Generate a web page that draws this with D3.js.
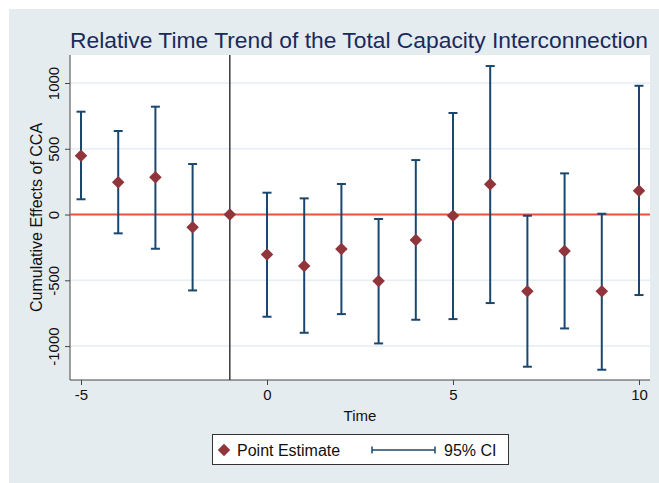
<!DOCTYPE html>
<html><head><meta charset="utf-8">
<script src="https://cdn.jsdelivr.net/npm/d3@7"></script>
<style>body{margin:0;background:#fff}svg{display:block}text{font-family:"Liberation Sans",Arial,sans-serif}</style>
</head><body><svg id="c" width="659" height="483"></svg>
<script>
const periods = [-5,-4,-3,-2,-1,0,1,2,3,4,5,6,7,8,9,10];
const estimates = [447,245,283,-97,0,-303,-392,-262,-506,-194,-9,230,-584,-278,-584,181];
const ciUpper = [782,635,820,384,null,166,123,232,-34,414,772,1129,-9,313,6,979];
const ciLower = [116,-143,-260,-577,null,-777,-899,-757,-980,-800,-795,-673,-1157,-866,-1180,-612];
const xTicks = [-5,0,5,10];
const yTicks = [-1000,-500,0,500,1000];
const title = "Relative Time Trend of the Total Capacity Interconnection";
const xLabel = "Time", yLabel = "Cumulative Effects of CCA";
const legendLabels = ["Point Estimate","95% CI"];
const refTime = -1;

const fmt = d => String(d);
const svg = d3.select("#c");
svg.append("rect").attr("x",9).attr("y",9).attr("width",650).attr("height",474).attr("fill","#e5ecf0");
const L=70,R=650,T=55,B=380;
svg.append("rect").attr("x",L).attr("y",T).attr("width",R-L).attr("height",B-T).attr("fill","#fff");

const x = d3.scaleLinear().domain([-5.296,10.296]).range([L,R]);
const y = d3.scaleLinear().domain([-1258,1213]).range([B,T]);

// gridlines
svg.append("g").selectAll("line").data(yTicks).join("line")
  .attr("x1",L).attr("x2",R).attr("y1",d=>y(d)).attr("y2",d=>y(d))
  .attr("stroke","#e6edf3").attr("stroke-width",1.5);

// axes
const yAx = svg.append("g").attr("transform",`translate(${L},0)`)
  .call(d3.axisLeft(y).tickValues(yTicks).tickFormat(fmt).tickSize(5).tickSizeOuter(0));
yAx.select(".domain").attr("stroke","#444").attr("d",`M0,${T}V${B}`);
yAx.selectAll(".tick line").attr("stroke","#444");
yAx.selectAll(".tick text").attr("font-size",15).attr("fill","#111")
  .attr("text-anchor","middle").attr("x",0).attr("y",0).attr("dy","0")
  .attr("transform","translate(-11,0) rotate(-90)");

const xAx = svg.append("g").attr("transform",`translate(0,${B})`)
  .call(d3.axisBottom(x).tickValues(xTicks).tickFormat(fmt).tickSize(5).tickPadding(4).tickSizeOuter(0));
xAx.select(".domain").attr("stroke","#444").attr("d",`M${L},0H${R}`);
xAx.selectAll(".tick line").attr("stroke","#444");
xAx.selectAll(".tick text").attr("font-size",15).attr("fill","#111");

// zero line
svg.append("line").attr("x1",L).attr("x2",R).attr("y1",y(0)).attr("y2",y(0))
  .attr("stroke","#e8503f").attr("stroke-width",2);
// reference vertical line
svg.append("line").attr("x1",x(refTime)).attr("x2",x(refTime)).attr("y1",T).attr("y2",B)
  .attr("stroke","#3a3a3a").attr("stroke-width",1.5);

// error bars
const data = periods.map((p,i)=>({p,e:estimates[i],u:ciUpper[i],l:ciLower[i]}));
const ci = data.filter(d=>d.u!==null);
const eb = svg.append("g").attr("stroke","#1a476f").attr("stroke-width",2);
eb.selectAll(".v").data(ci).join("line").attr("x1",d=>x(d.p)).attr("x2",d=>x(d.p))
  .attr("y1",d=>y(d.u)).attr("y2",d=>y(d.l));
eb.selectAll(".cu").data(ci).join("line").attr("x1",d=>x(d.p)-4.5).attr("x2",d=>x(d.p)+4.5)
  .attr("y1",d=>y(d.u)).attr("y2",d=>y(d.u));
eb.selectAll(".cl").data(ci).join("line").attr("x1",d=>x(d.p)-4.5).attr("x2",d=>x(d.p)+4.5)
  .attr("y1",d=>y(d.l)).attr("y2",d=>y(d.l));

// points
const dsym = d3.symbol().type(d3.symbolDiamond2).size(100);
svg.append("g").selectAll("path").data(data).join("path")
  .attr("d",dsym).attr("transform",d=>`translate(${x(d.p)},${y(d.e)})`)
  .attr("fill","#90353b");

// title
svg.append("text").attr("x",70).attr("y",48).attr("font-size",21.5).attr("fill","#1a2a5c")
  .attr("textLength",578).attr("lengthAdjust","spacingAndGlyphs").text(title);

// axis labels
svg.append("text").attr("x",(L+R)/2).attr("y",421).attr("text-anchor","middle")
  .attr("font-size",15).attr("fill","#111").text(xLabel);
svg.append("text").attr("transform",`translate(42,${(T+B)/2}) rotate(-90)`).attr("text-anchor","middle")
  .attr("font-size",16).attr("fill","#111").text(yLabel);

// legend
const lg = svg.append("g");
lg.append("rect").attr("x",212.5).attr("y",434.5).attr("width",296).attr("height",30)
  .attr("fill","#fff").attr("stroke","#333").attr("stroke-width",1);
lg.append("path").attr("d",dsym).attr("transform","translate(224,450)").attr("fill","#90353b");
lg.append("text").attr("x",237).attr("y",455.5).attr("font-size",16).attr("fill","#111").text(legendLabels[0]);
lg.append("line").attr("x1",372).attr("x2",435).attr("y1",450).attr("y2",450).attr("stroke","#1a476f").attr("stroke-width",1.5);
lg.append("line").attr("x1",372).attr("x2",372).attr("y1",446.5).attr("y2",453.5).attr("stroke","#1a476f").attr("stroke-width",1.5);
lg.append("line").attr("x1",435).attr("x2",435).attr("y1",446.5).attr("y2",453.5).attr("stroke","#1a476f").attr("stroke-width",1.5);
lg.append("text").attr("x",444).attr("y",455.5).attr("font-size",16).attr("fill","#111").text(legendLabels[1]);
</script></body></html>
